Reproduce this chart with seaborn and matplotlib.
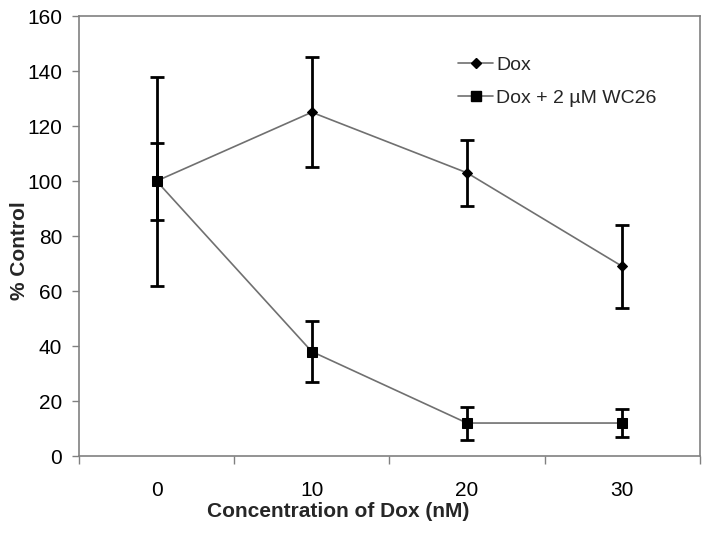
import matplotlib
matplotlib.use("Agg")
import matplotlib.pyplot as plt
import seaborn as sns
import pandas as pd
import numpy as np
from matplotlib.lines import Line2D

categories = ["0", "10", "20", "30"]
dox = [100, 125, 103, 69]
dox_err = [14, 20, 12, 15]
wc26 = [100, 38, 12, 12]
wc26_err = [38, 11, 6, 5]
series_names = ["Dox", "Dox + 2 \u00b5M WC26"]

sns.set_style("white")
plt.rcParams['font.family'] = ['Liberation Sans', 'DejaVu Sans']

pos = np.arange(len(categories))
df = pd.DataFrame({
    "x": np.concatenate([pos, pos]),
    "y": dox + wc26,
    "err": dox_err + wc26_err,
    "series": [series_names[0]] * len(pos) + [series_names[1]] * len(pos),
})

fig = plt.figure(figsize=(7.07, 5.34), dpi=100)
ax = fig.add_axes([0.1117, 0.146, 0.878, 0.824])

line_color = "#707070"

# error bars
for name in series_names:
    sub = df[df.series == name]
    ax.errorbar(sub.x, sub.y, yerr=sub.err, fmt='none', ecolor='black',
                elinewidth=2.0, capsize=5, capthick=2.0, zorder=2)

sns.lineplot(data=df, x="x", y="y", hue="series", style="series",
             markers={series_names[0]: "D", series_names[1]: "s"},
             dashes=False, palette={series_names[0]: line_color, series_names[1]: line_color},
             linewidth=1.2, markersize=7, markerfacecolor="black",
             markeredgecolor="black", ax=ax, zorder=3, legend=False)
for line in ax.lines:
    if line.get_marker() == "D":
        line.set_markersize(5.5)

ax.set_xlim(-0.5, 3.5)
ax.set_ylim(0, 160)
ax.set_yticks(np.arange(0, 161, 20))
ax.set_xticks(pos)
ax.set_xticklabels(categories)
ax.set_xticks(np.arange(-0.5, 3.6, 1), minor=True)
ax.tick_params(axis='x', which='major', length=0, labelsize=15, pad=18)
ax.tick_params(axis='x', which='minor', length=6, width=1, color='#808080', direction='out')
ax.tick_params(axis='y', length=5, width=1, color='#808080', direction='out', labelsize=15, pad=7)
ax.tick_params(axis='both', labelcolor='black')
ax.xaxis.set_ticks_position('bottom')
ax.yaxis.set_ticks_position('left')

for s in ax.spines.values():
    s.set_color('#808080')
    s.set_linewidth(1.2)

ax.set_xlabel("Concentration of Dox (nM)", fontsize=15, fontweight='bold')
ax.set_ylabel("% Control", fontsize=15, fontweight='bold')
ax.xaxis.set_label_coords(0.417, -0.105)
ax.yaxis.set_label_coords(-0.08, 0.466)

handles = [
    Line2D([0], [0], color=line_color, lw=1.2, marker='D', markersize=5.5,
           markerfacecolor='black', markeredgecolor='black'),
    Line2D([0], [0], color=line_color, lw=1.2, marker='s', markersize=7,
           markerfacecolor='black', markeredgecolor='black'),
]
ax.legend(handles, series_names, loc='upper left', bbox_to_anchor=(0.583, 0.948),
          frameon=False, fontsize=14, labelspacing=0.78, handlelength=1.8,
          handletextpad=0.15)

fig.savefig("out.png", dpi=100)
